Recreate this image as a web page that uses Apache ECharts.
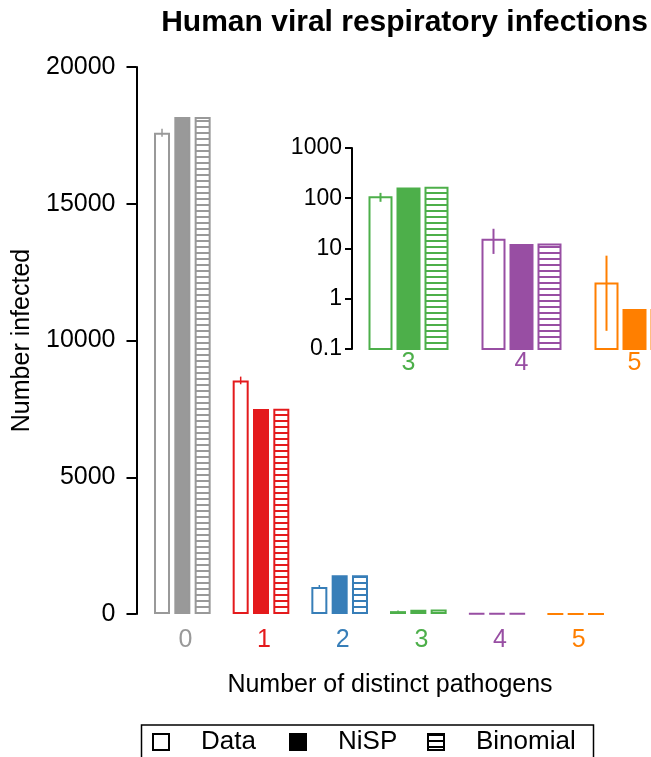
<!DOCTYPE html>
<html>
<head>
<meta charset="utf-8">
<script src="https://cdn.jsdelivr.net/npm/echarts@6/dist/echarts.min.js"></script>
<style>
html,body{margin:0;padding:0;background:#fff;}
#chart{width:651px;height:757px;}
</style>
</head>
<body>
<div id="chart"></div>
<script>
// ---- data ----
const categories = ['0', '1', '2', '3', '4', '5'];
const dataVals   = [17600, 8540, 990, 105, 15, 2];
const nispVals   = [18170, 7500, 1415, 156, 11.7, 0.6];
const binomVals  = [18170, 7505, 1420, 161, 12, 0.6];
const errLow     = [17450, 8400, 930, 85, 7.8, 0.23];
const errHigh    = [17740, 8680, 1060, 128, 24.7, 7.2];
const mainTicks  = [0, 5000, 10000, 15000, 20000];
const insetCats  = ['3', '4', '5'];
const insetStart = 3;
const insetTicks = [0.1, 1, 10, 100, 1000];
const colors = ['#999999', '#E41A1C', '#377EB8', '#4DAF4A', '#984EA3', '#FF7F00'];
const legendNames = ['Data', 'NiSP', 'Binomial'];

// ---- styles ----
const FONT = 'Liberation Sans, Arial, Helvetica, sans-serif';
function hatch(color) {
  const c = document.createElement('canvas');
  c.width = 6; c.height = 6;
  const g = c.getContext('2d');
  g.fillStyle = '#ffffff'; g.fillRect(0, 0, 6, 6);
  g.fillStyle = color; g.fillRect(0, 0, 6, 2);
  return { image: c, repeat: 'repeat' };
}
const MAIN_BW = 16, MAIN_GAP = 0.27;
const IN_BW = 22, IN_GAP = 6;

const chart = echarts.init(document.getElementById('chart'), null, { renderer: 'canvas' });

const dataSeries = {
  name: 'Data', type: 'bar', xAxisIndex: 0, yAxisIndex: 0,
  barWidth: MAIN_BW, barGap: (MAIN_GAP * 100) + '%',
  data: dataVals.map((v, i) => ({ value: v, itemStyle: { color: '#fff', borderColor: colors[i], borderWidth: 2 } })),
  emphasis: { disabled: true }, silent: true
};
const nispSeries = {
  name: 'NiSP', type: 'bar', xAxisIndex: 0, yAxisIndex: 0,
  barWidth: MAIN_BW, barGap: (MAIN_GAP * 100) + '%',
  data: nispVals.map((v, i) => ({ value: v, itemStyle: { color: colors[i], borderColor: colors[i], borderWidth: 2 } })),
  emphasis: { disabled: true }, silent: true
};
const binSeries = {
  name: 'Binomial', type: 'bar', xAxisIndex: 0, yAxisIndex: 0,
  barWidth: MAIN_BW, barGap: (MAIN_GAP * 100) + '%',
  data: binomVals.map((v, i) => ({ value: v, itemStyle: { color: hatch(colors[i]), borderColor: colors[i], borderWidth: 2 } })),
  emphasis: { disabled: true }, silent: true
};
const mainErr = {
  name: 'err', type: 'custom', xAxisIndex: 0, yAxisIndex: 0, silent: true, z: 5,
  data: categories.map((c, i) => [i, errLow[i], errHigh[i]]),
  renderItem: function (params, api) {
    const i = api.value(0);
    const lo = api.coord([i, api.value(1)]);
    const hi = api.coord([i, api.value(2)]);
    const off = -(MAIN_BW + MAIN_BW * MAIN_GAP);
    return { type: 'line', shape: { x1: lo[0] + off, y1: lo[1], x2: hi[0] + off, y2: hi[1] },
      style: { stroke: colors[i], lineWidth: 1.5 } };
  }
};
const insetBars = {
  name: 'inset', type: 'custom', xAxisIndex: 1, yAxisIndex: 1, silent: true, clip: false,
  data: insetCats.map((c, k) => {
    const i = k + insetStart;
    return [k, dataVals[i], nispVals[i], binomVals[i], errLow[i], errHigh[i]];
  }),
  renderItem: function (params, api) {
    const k = api.value(0);
    const col = colors[k + insetStart];
    const base = api.coord([k, insetTicks[0]]);
    const children = [];
    const fills = ['#ffffff', col, hatch(col)];
    for (let j = 0; j < 3; j++) {
      const top = api.coord([k, api.value(j + 1)]);
      const x = base[0] + (j - 1) * (IN_BW + IN_GAP) - IN_BW / 2;
      children.push({ type: 'rect', shape: { x: x, y: top[1], width: IN_BW, height: base[1] - top[1] },
        style: { fill: fills[j], stroke: col, lineWidth: 2 } });
    }
    const lo = api.coord([k, api.value(4)]);
    const hi = api.coord([k, api.value(5)]);
    const off = -(IN_BW + IN_GAP);
    children.push({ type: 'line', shape: { x1: lo[0] + off, y1: lo[1], x2: hi[0] + off, y2: hi[1] },
      style: { stroke: col, lineWidth: 2 } });
    return { type: 'group', children: children };
  }
};

function legendAt(name, left, itemStyle) {
  return {
    show: true, left: left, top: 729, orient: 'horizontal', selectedMode: false,
    itemWidth: 16, itemHeight: 16, padding: 0,
    textStyle: { fontFamily: FONT, fontSize: 26, color: '#000', padding: [0, 0, 0, 27] },
    data: [{ name: name, icon: 'rect', itemStyle: itemStyle }]
  };
}

const option = {
  backgroundColor: '#ffffff',
  animation: false,
  title: {
    text: 'Human viral respiratory infections', right: -2, top: 3,
    textStyle: { fontFamily: FONT, fontSize: 30, fontWeight: 'bold', color: '#000' }
  },
  legend: [
    legendAt(legendNames[0], 152, { color: '#fff', borderColor: '#000', borderWidth: 2 }),
    legendAt(legendNames[1], 289, { color: '#000', borderColor: '#000', borderWidth: 2 }),
    legendAt(legendNames[2], 427, { color: hatch('#000'), borderColor: '#000', borderWidth: 2 })
  ],
  graphic: [{
    type: 'rect', shape: { x: 141.5, y: 725, width: 452, height: 60 },
    style: { fill: 'none', stroke: '#000', lineWidth: 1.5 }, silent: true, z: -1
  }],
  grid: [
    { left: 143, top: 67, width: 472, height: 547, outerBoundsMode: 'none', containLabel: false },
    { left: 352, top: 148, width: 339, height: 201, outerBoundsMode: 'none', containLabel: false }
  ],
  xAxis: [
    {
      type: 'category', gridIndex: 0, data: categories,
      name: 'Number of distinct pathogens', nameLocation: 'middle', nameGap: 59,
      nameTextStyle: { fontFamily: FONT, fontSize: 25, color: '#000', padding: [0, 0, 0, 22] },
      axisLine: { show: false }, axisTick: { show: false },
      axisLabel: {
        fontFamily: FONT, fontSize: 25, margin: 14, padding: [0, 0, 0, 6],
        color: function (v, idx) { return colors[idx]; }
      }
    },
    {
      type: 'category', gridIndex: 1, data: insetCats,
      axisLine: { show: false }, axisTick: { show: false },
      axisLabel: {
        fontFamily: FONT, fontSize: 25, margin: 2,
        color: function (v, idx) { return colors[idx + insetStart]; }
      }
    }
  ],
  yAxis: [
    {
      type: 'value', gridIndex: 0, min: mainTicks[0], max: mainTicks[mainTicks.length - 1],
      interval: mainTicks[1] - mainTicks[0], offset: 6.5,
      name: 'Number infected', nameLocation: 'middle', nameGap: 92, nameRotate: 90,
      nameTextStyle: { fontFamily: FONT, fontSize: 25, color: '#000' },
      axisLine: { show: true, lineStyle: { color: '#000', width: 2 } },
      axisTick: { show: true, length: 10, lineStyle: { color: '#000', width: 2 } },
      axisLabel: { fontFamily: FONT, fontSize: 25, color: '#000', margin: 21,
        formatter: function (v) { return String(v); } },
      splitLine: { show: false }
    },
    {
      type: 'log', gridIndex: 1, logBase: 10, min: insetTicks[0], max: insetTicks[insetTicks.length - 1],
      axisLine: { show: true, lineStyle: { color: '#000', width: 2 } },
      axisTick: { show: true, length: 7, lineStyle: { color: '#000', width: 2 } },
      axisLabel: { fontFamily: FONT, fontSize: 23, color: '#000', margin: 10,
        formatter: function (v) { return String(Math.round(v * 10) / 10); } },
      splitLine: { show: false }, minorTick: { show: false }
    }
  ],
  series: [dataSeries, nispSeries, binSeries, mainErr, insetBars]
};
chart.setOption(option);
</script>
</body>
</html>
